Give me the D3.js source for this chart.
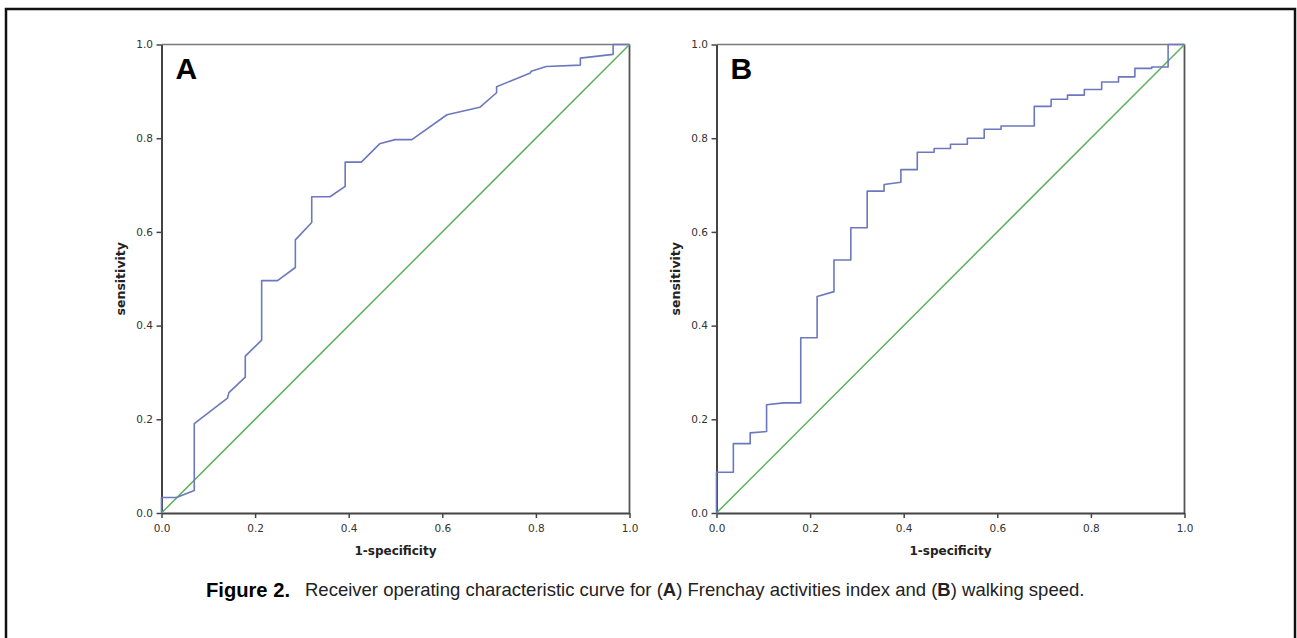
<!DOCTYPE html>
<html>
<head>
<meta charset="utf-8">
<script src="https://cdn.jsdelivr.net/npm/d3@7"></script>
<style>
  body { margin: 0; background: #fff; }
  svg { display: block; }
</style>
</head>
<body>
<div id="fig"></div>
<script>
// ROC curve vertices (1-specificity, sensitivity)
const rocA_fpr  = [0, 0, 0.032, 0.070, 0.070, 0.141, 0.144, 0.179, 0.179, 0.214, 0.214, 0.248, 0.286, 0.286, 0.321, 0.321, 0.360, 0.3925, 0.3925, 0.427, 0.466, 0.499, 0.535, 0.610, 0.680, 0.716, 0.716, 0.788, 0.790, 0.822, 0.895, 0.895, 0.965, 0.965, 1]
const rocA_sens = [0, 0.033, 0.033, 0.048, 0.191, 0.245, 0.257, 0.290, 0.335, 0.369, 0.496, 0.496, 0.524, 0.583, 0.620, 0.675, 0.675, 0.697, 0.749, 0.749, 0.788, 0.797, 0.797, 0.850, 0.866, 0.897, 0.910, 0.939, 0.943, 0.953, 0.956, 0.971, 0.979, 1, 1]

const rocB_fpr  = [0, 0, 0.036, 0.036, 0.072, 0.072, 0.107, 0.107, 0.143, 0.180, 0.180, 0.215, 0.215, 0.251, 0.251, 0.287, 0.287, 0.322, 0.322, 0.358, 0.358, 0.394, 0.394, 0.429, 0.429, 0.465, 0.465, 0.500, 0.500, 0.536, 0.536, 0.572, 0.572, 0.608, 0.608, 0.679, 0.679, 0.715, 0.715, 0.750, 0.750, 0.786, 0.786, 0.823, 0.823, 0.859, 0.859, 0.894, 0.894, 0.930, 0.930, 0.965, 0.965, 1]
const rocB_sens = [0, 0.087, 0.087, 0.148, 0.148, 0.171, 0.174, 0.231, 0.235, 0.235, 0.374, 0.374, 0.462, 0.4725, 0.540, 0.540, 0.609, 0.609, 0.687, 0.687, 0.701, 0.706, 0.733, 0.733, 0.770, 0.770, 0.778, 0.778, 0.787, 0.787, 0.800, 0.800, 0.819, 0.819, 0.826, 0.826, 0.868, 0.868, 0.883, 0.883, 0.892, 0.892, 0.904, 0.904, 0.920, 0.920, 0.931, 0.931, 0.949, 0.949, 0.952, 0.952, 1, 1]

const refLine = [0, 1]
const ticks = [0, 0.2, 0.4, 0.6, 0.8, 1.0]
const panelLetters = ['A', 'B']

const W = 1297, H = 638

const svg = d3.select('#fig')
    .append('svg')
    .attr('width', W)
    .attr('height', H)

// outer frame
svg.append('rect')
    .attr('x', 6).attr('y', 9)
    .attr('width', 1289).attr('height', 660)
    .attr('fill', 'none')
    .attr('stroke', '#111')
    .attr('stroke-width', 2.5)

const panels = [
    { left: 161.5, letter: panelLetters[0], fpr: rocA_fpr, sens: rocA_sens },
    { left: 716.5, letter: panelLetters[1], fpr: rocB_fpr, sens: rocB_sens }
]
const pw = 468, plotTop = 44.5, plotBottom = 513

panels.forEach(p => {
    const x = d3.scaleLinear().domain([0, 1]).range([p.left, p.left + pw])
    const y = d3.scaleLinear().domain([0, 1]).range([plotBottom, plotTop])

    const g = svg.append('g')

    // box: top and right
    g.append('line')
        .attr('x1', x(0)).attr('x2', x(1)).attr('y1', y(1)).attr('y2', y(1))
        .attr('stroke', '#7a7a7a').attr('stroke-width', 1.5)
    g.append('line')
        .attr('x1', x(1)).attr('x2', x(1)).attr('y1', y(0)).attr('y2', y(1))
        .attr('stroke', '#555').attr('stroke-width', 1.8)

    // axes
    const xAxis = d3.axisBottom(x).tickValues(ticks).tickFormat(d3.format('.1f')).tickSize(5).tickSizeOuter(0)
    const yAxis = d3.axisLeft(y).tickValues(ticks).tickFormat(d3.format('.1f')).tickSize(5).tickSizeOuter(0)

    const gx = g.append('g').attr('transform', `translate(0, ${plotBottom})`).call(xAxis)
    const gy = g.append('g').attr('transform', `translate(${p.left}, 0)`).call(yAxis)

    ;[gx, gy].forEach(a => {
        a.select('.domain').attr('stroke', '#444').attr('stroke-width', 2)
        a.selectAll('.tick line').attr('stroke', '#444').attr('stroke-width', 1.5)
        a.selectAll('.tick text')
            .attr('fill', '#333')
            .style('font-family', 'DejaVu Sans, sans-serif')
            .style('font-size', '10.5px')
    })
    gx.selectAll('.tick text').attr('dy', '1.0em')
    gy.selectAll('.tick text').attr('dx', '-0.05em')

    // reference diagonal
    g.append('line')
        .attr('x1', x(refLine[0])).attr('y1', y(refLine[0]))
        .attr('x2', x(refLine[1])).attr('y2', y(refLine[1]))
        .attr('stroke', '#5cb05c').attr('stroke-width', 1.5)

    // ROC curve
    const pts = p.fpr.map((f, i) => [f, p.sens[i]])
    const line = d3.line().x(d => x(d[0])).y(d => y(d[1]))
    g.append('path')
        .datum(pts)
        .attr('d', line)
        .attr('fill', 'none')
        .attr('stroke', '#6b78bd')
        .attr('stroke-width', 1.6)
        .attr('stroke-linejoin', 'round')

    // panel letter
    g.append('text')
        .attr('x', p.left + 14).attr('y', 79)
        .style('font-family', 'Liberation Sans, Arial, sans-serif')
        .style('font-weight', 'bold')
        .style('font-size', '30px')
        .attr('fill', '#000')
        .text(p.letter)

    // axis titles
    g.append('text')
        .attr('x', p.left + pw / 2).attr('y', 555)
        .attr('text-anchor', 'middle')
        .style('font-family', 'DejaVu Sans, sans-serif')
        .style('font-weight', 'bold')
        .style('font-size', '12px')
        .attr('fill', '#222')
        .text('1-specificity')

    g.append('text')
        .attr('transform', `translate(${p.left - 37}, ${(plotTop + plotBottom) / 2}) rotate(-90)`)
        .attr('text-anchor', 'middle')
        .style('font-family', 'DejaVu Sans, sans-serif')
        .style('font-weight', 'bold')
        .style('font-size', '12.5px')
        .attr('fill', '#222')
        .text('sensitivity')
})

// caption
svg.append('text')
    .attr('x', 206).attr('y', 597)
    .style('font-family', 'Liberation Sans Narrow, Arial Narrow, sans-serif')
    .style('font-weight', 'bold')
    .style('font-size', '21px')
    .attr('fill', '#000')
    .attr('textLength', 84)
    .attr('lengthAdjust', 'spacingAndGlyphs')
    .text('Figure 2.')

const cap = svg.append('text')
    .attr('x', 305).attr('y', 596)
    .style('font-family', 'Liberation Sans, Arial, sans-serif')
    .style('font-size', '18.5px')
    .attr('fill', '#222')
const parts = [
    ['Receiver operating characteristic curve for (', false],
    ['A', true],
    [') Frenchay activities index and (', false],
    ['B', true],
    [') walking speed.', false]
]
parts.forEach(([t, b]) => {
    cap.append('tspan').style('font-weight', b ? 'bold' : 'normal').text(t)
})
</script>
</body>
</html>
